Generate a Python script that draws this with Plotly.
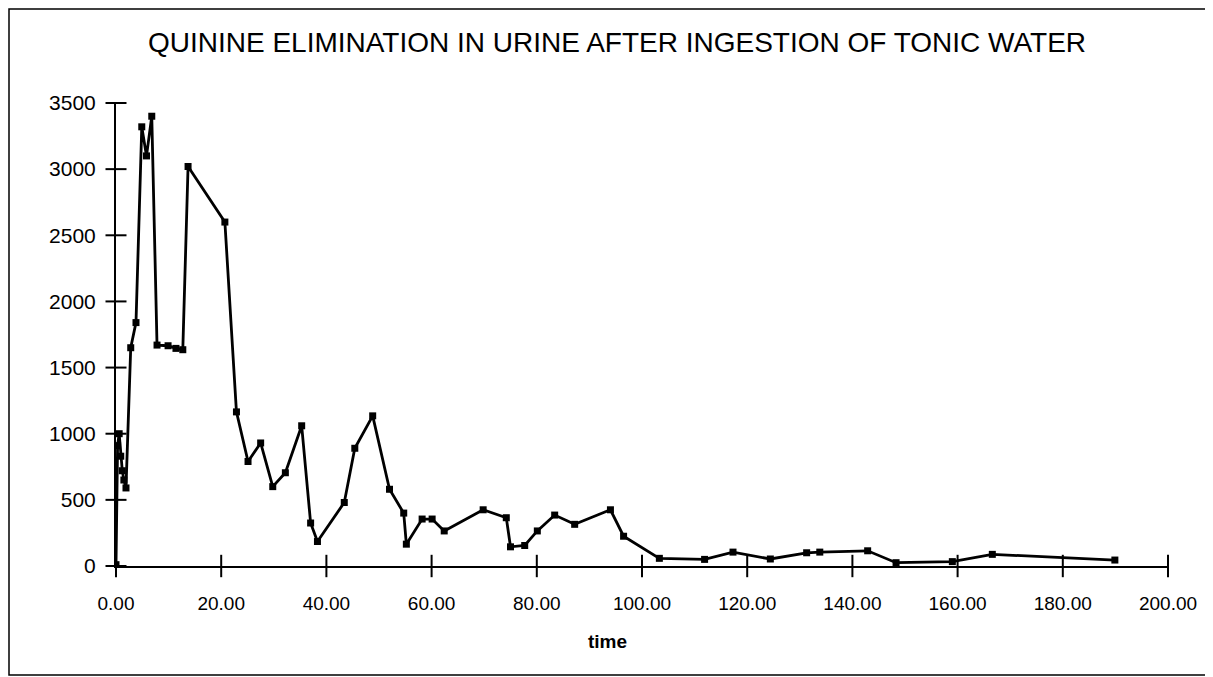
import plotly.graph_objects as go

# Data (time in hours, quinine amount)
time = [0.0, 0.3, 0.6, 0.9, 1.2, 1.5, 1.9, 2.8, 3.8, 4.9, 5.8, 6.8, 7.8, 9.9, 11.4, 12.7,
        13.7, 20.7, 22.9, 25.1, 27.5, 29.8, 32.2, 35.3, 37.0, 38.3, 43.4, 45.4, 48.8,
        52.0, 54.7, 55.2, 58.2, 60.1, 62.4, 69.8, 74.2, 75.0, 77.7, 80.1, 83.4, 87.2,
        94.0, 96.5, 103.3, 111.9, 117.3, 124.4, 131.3, 133.8, 142.9, 148.3, 159.0,
        166.6, 189.9]
quinine = [10, 910, 1000, 830, 720, 650, 590, 1650, 1840, 3320, 3100, 3400, 1670, 1665, 1645, 1635,
           3020, 2600, 1165, 790, 930, 600, 705, 1060, 325, 185, 480, 890, 1135,
           580, 400, 165, 355, 355, 265, 425, 365, 145, 155, 265, 385, 315,
           425, 225, 58, 50, 105, 53, 100, 105, 115, 25, 33,
           88, 45]

x_ticks = [0, 20, 40, 60, 80, 100, 120, 140, 160, 180, 200]
y_ticks = [0, 500, 1000, 1500, 2000, 2500, 3000, 3500]

title_text = "QUININE ELIMINATION IN URINE AFTER INGESTION OF TONIC WATER"
x_title = "time"

FONT = "Liberation Sans, Arial, Helvetica, sans-serif"

fig = go.Figure()
fig.add_trace(go.Scatter(
    x=time, y=quinine, mode="lines+markers",
    line=dict(color="black", width=2.8),
    marker=dict(symbol="square", size=7, color="black"),
    showlegend=False, hoverinfo="x+y",
))
# crossing tick marks on both axes
fig.add_trace(go.Scatter(
    x=x_ticks, y=[y_ticks[0]] * len(x_ticks), mode="markers", cliponaxis=False,
    marker=dict(symbol="line-ns", size=16, line=dict(color="black", width=2)),
    showlegend=False, hoverinfo="skip"))
fig.add_trace(go.Scatter(
    x=[x_ticks[0]] * len(y_ticks), y=y_ticks, mode="markers", cliponaxis=False,
    marker=dict(symbol="line-ew", size=15, line=dict(color="black", width=2)),
    showlegend=False, hoverinfo="skip"))

# page body has an 8px margin; figure coords are shifted accordingly
W, H = 1213, 677
L, T = 108, 95
pw, ph = 1052, 463
R, B = W - L - pw, H - T - ph

axis_common = dict(showgrid=False, zeroline=False, linecolor="black", linewidth=2,
                   ticks="outside", ticklen=7, tickcolor="rgba(0,0,0,0)", showline=True)

fig.update_layout(
    width=W, height=H,
    margin=dict(l=L, r=R, t=T, b=B, autoexpand=False),
    paper_bgcolor="white", plot_bgcolor="white",
    font=dict(family=FONT, color="black", size=19),
    title=dict(text=title_text, x=609 / W, xref="container", xanchor="center",
               y=1 - 34 / H, yref="container", yanchor="middle",
               font=dict(family=FONT, size=28, color="black")),
    xaxis=dict(range=[0, 200], tickvals=x_ticks, tickformat=".2f", ticklabelstandoff=12,
               tickfont=dict(size=19), **axis_common),
    yaxis=dict(range=[0, 3500], tickvals=y_ticks, tickformat="d", ticklabelstandoff=7,
               tickfont=dict(size=21), **axis_common),
)

fig.add_annotation(text="<b>" + x_title + "</b>", xref="paper", yref="paper",
                   x=(607 - 116) / pw, y=(566 - 641) / ph, xanchor="center", yanchor="middle",
                   showarrow=False, font=dict(family=FONT, size=19, color="black"))

# outer frame around the whole chart
fig.add_shape(type="rect", xref="paper", yref="paper",
              x0=(1 - L) / pw, x1=(1199 - L) / pw,
              y0=(T + ph - 667) / ph, y1=(T + ph - 1) / ph,
              line=dict(color="black", width=1.5), fillcolor="rgba(0,0,0,0)", layer="below")

fig.write_html("out.html")
